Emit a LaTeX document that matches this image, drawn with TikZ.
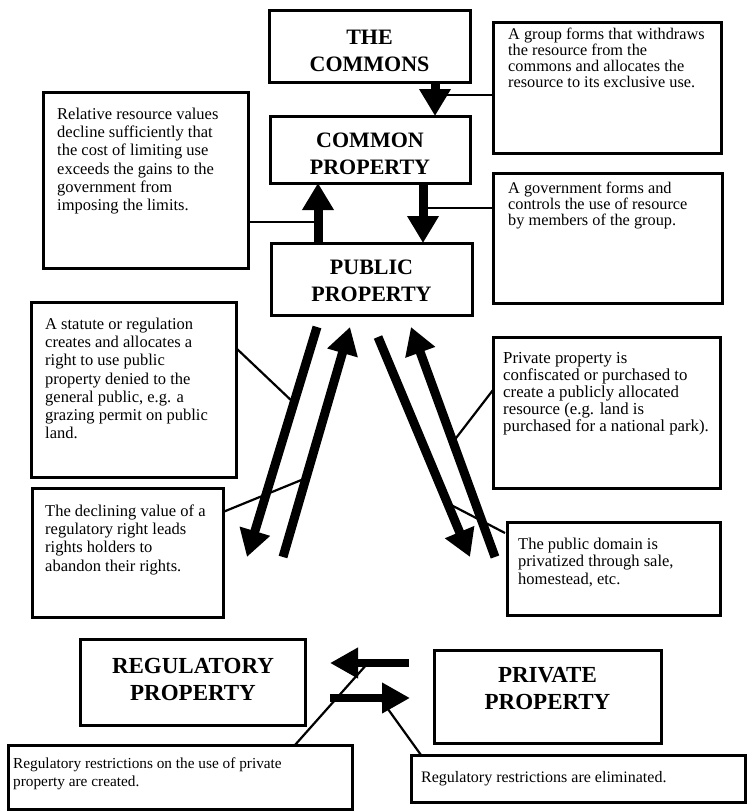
\documentclass[tikz,border=0pt]{standalone}
\usepackage{fontspec}
\setmainfont{Liberation Serif}
\usetikzlibrary{arrows.meta,calc}
\begin{document}
\begin{tikzpicture}[x=1pt,y=-1pt,
  box/.style={draw, line width=3pt, inner sep=0pt, outer sep=0pt, anchor=north west},
  ttl/.style={inner sep=0pt, align=center, font=\fontsize{22}{27}\selectfont\bfseries},
  bttl/.style={inner sep=0pt, align=center, font=\fontsize{23}{27}\selectfont\bfseries},
  txt/.style={inner sep=0pt, anchor=north west, align=left},
  fleft/.style={font=\fontsize{16.5}{18.3}\selectfont},
  fright/.style={font=\fontsize{16.3}{16}\selectfont},
  bigarrow/.style={line width=9pt, -{Triangle[length=27pt,width=30pt]}},
  botarrow/.style={line width=8pt, -{Triangle[length=28pt,width=29pt]}},
  link/.style={line width=2.2pt},
]
\useasboundingbox (0,0) rectangle (748,811);

% title boxes
\node[box, minimum width=201pt, minimum height=72pt] (nCommons) at (269,10) {};
\node[box, minimum width=200pt, minimum height=67pt] (nCommonProp) at (270,116) {};
\node[box, minimum width=201pt, minimum height=72pt] (nPublic) at (271,243) {};
\node[box, minimum width=225pt, minimum height=86pt] (nRegProp) at (80,639) {};
\node[box, minimum width=227pt, minimum height=93pt] (nPrivProp) at (434,650) {};

\node[ttl] (tCommons) at (369.5,51) {THE\\COMMONS};
\node[ttl] (tCommonProp) at (370,154) {COMMON\\PROPERTY};
\node[ttl] (tPublic) at (371.5,281) {PUBLIC\\PROPERTY};
\node[bttl] (tRegProp) at (193,679) {REGULATORY\\PROPERTY};
\node[bttl] (tPrivProp) at (547.5,689) {PRIVATE\\PROPERTY};

% note boxes
\node[box, minimum width=228pt, minimum height=131pt] (nCommonsNote) at (493,22) {};
\node[box, minimum width=229pt, minimum height=130pt] (nGovNote) at (493,173) {};
\node[box, minimum width=205pt, minimum height=176pt] (nRelNote) at (43,92) {};
\node[box, minimum width=205pt, minimum height=175pt] (nStatNote) at (31,302) {};
\node[box, minimum width=191pt, minimum height=129pt] (nDeclNote) at (32,488) {};
\node[box, minimum width=227pt, minimum height=151pt] (nConfNote) at (493,337) {};
\node[box, minimum width=213pt, minimum height=93pt] (nDomNote) at (507,522) {};
\node[box, minimum width=344pt, minimum height=64pt] (nRegNote) at (8,745) {};
\node[box, minimum width=334pt, minimum height=47pt] (nElimNote) at (411,755) {};

\node[txt, fright] (tCommonsNote) at (508,28) {A group forms that withdraws\\the resource from the\\commons and allocates the\\resource to its exclusive use.};
\node[txt, fright] (tGovNote) at (508,182) {A government forms and\\controls the use of resource\\by members of the group.};
\node[txt, fleft] (tRelNote) at (57,107.5) {Relative resource values\\decline sufficiently that\\the cost of limiting use\\exceeds the gains to the\\government from\\imposing the limits.};
\node[txt, fleft] (tStatNote) at (45,317.5) {A statute or regulation\\creates and allocates a\\right to use public\\property denied to the\\general public, e.g. a\\grazing permit on public\\land.};
\node[txt, fleft] (tDeclNote) at (45,504.5) {The declining value of a\\regulatory right leads\\rights holders to\\abandon their rights.};
\node[txt, font=\fontsize{16.8}{17}\selectfont] (tConfNote) at (503,352.5) {Private property is\\confiscated or purchased to\\create a publicly allocated\\resource (e.g. land is\\purchased for a national park).};
\node[txt, font=\fontsize{16.5}{17.5}\selectfont] (tDomNote) at (518,537.5) {The public domain is\\privatized through sale,\\homestead, etc.};
\node[txt, font=\fontsize{15.3}{18}\selectfont] (tRegNote) at (13,757.5) {Regulatory restrictions on the use of private\\property are created.};
\node[txt, font=\fontsize{16}{18}\selectfont] (tElimNote) at (421,771.5) {Regulatory restrictions are eliminated.};

% vertical arrows at top
\coordinate (xA) at (435,0);
\coordinate (xB) at (423,0);
\coordinate (xC) at (318,0);

% diagonal arrow end points
\coordinate (d1s) at (317,327); \coordinate (d1e) at (247,557);
\coordinate (d2s) at (283,557); \coordinate (d2e) at (350,327);
\coordinate (d3s) at (378,337); \coordinate (d3e) at (470,557);
\coordinate (d4s) at (495,557); \coordinate (d4e) at (411,327);

% links (drawn before arrows so arrows sit on top)
\coordinate (yA) at (0,95);
\coordinate (yB) at (0,208);
\coordinate (yC) at (0,222);
\draw[link] (nCommonsNote.west |- yA) -- (xA |- yA);
\draw[link] (nGovNote.west |- yB) -- (xB |- yB);
\draw[link] (nRelNote.east |- yC) -- (xC |- yC);

\draw[bigarrow] (nCommons.south -| xA) -- (nCommonProp.north -| xA);
\draw[bigarrow] (nCommonProp.south -| xB) -- (nPublic.north -| xB);
\draw[bigarrow] (nPublic.north -| xC) -- (nCommonProp.south -| xC);

\coordinate (yS) at (0,348);
\coordinate (yD) at (0,512);
\coordinate (yF) at (0,390);
\coordinate (yP) at (0,533);
\draw[link] (nStatNote.east |- yS) -- ($(d1s)!0.33!(d1e)$);
\draw[link] (nDeclNote.east |- yD) -- ($(d2s)!0.343!(d2e)$);
\draw[link] (nConfNote.west |- yF) -- ($(d4s)!0.5!(d4e)$);
\draw[link] ([xshift=-2pt]nDomNote.west |- yP) -- ($(d3s)!0.755!(d3e)$);

\draw[bigarrow] (d1s) -- (d1e);
\draw[bigarrow] (d2s) -- (d2e);
\draw[bigarrow] (d3s) -- (d3e);
\draw[bigarrow] (d4s) -- (d4e);

% bottom arrows
\coordinate (bls) at (409,663); \coordinate (ble) at (330,663);
\coordinate (brs) at (330,698); \coordinate (bre) at (410,698);
\coordinate (xR) at (295,0);
\coordinate (xE) at (421,0);
\draw[link] (nRegNote.north -| xR) -- ($(bls)!0.52!(ble)$);
\draw[link] (nElimNote.north -| xE) -- ($(brs)!0.625!(bre)$);
\draw[botarrow] (bls) -- (ble);
\draw[botarrow] (brs) -- (bre);
\end{tikzpicture}
\end{document}
